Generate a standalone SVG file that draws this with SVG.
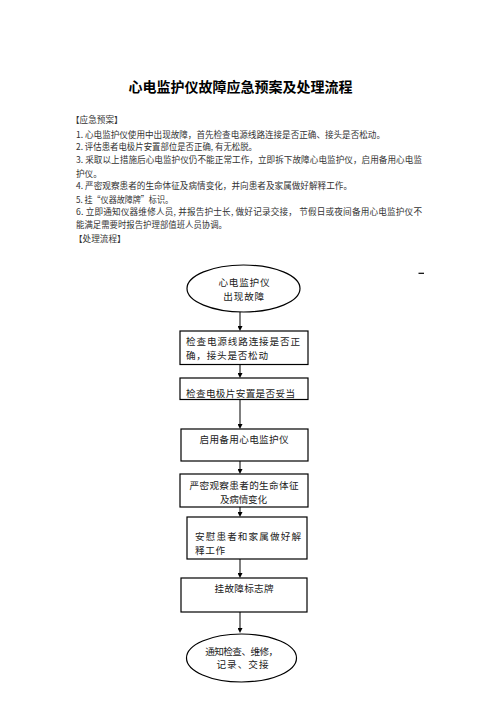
<svg xmlns="http://www.w3.org/2000/svg" width="496" height="702" viewBox="0 0 496 702">
<style>
.title{font-family:"Noto Sans CJK SC","Noto Sans",sans-serif;font-size:14px;font-weight:bold;fill:#000}
.body{font-family:"Noto Sans CJK SC","Noto Sans",sans-serif;font-size:8.6px;fill:#333}
.nt{font-family:"Noto Sans CJK SC","Noto Sans",sans-serif;font-size:9.6px;fill:#222}
.box{fill:#fff;stroke:#000;stroke-width:1.2}
.conn{stroke:#7f7f7f;stroke-width:2;fill:none}
</style>
<defs>
<marker id="ah" viewBox="0 0 5 5" refX="0" refY="2.5" markerWidth="5" markerHeight="5" markerUnits="userSpaceOnUse" orient="auto">
<path d="M0,0 L5,2.5 L0,5 z" fill="#000"/>
</marker>
</defs>
<rect width="496" height="702" fill="#fff"/>
<text class="title" x="240.5" y="92" text-anchor="middle">心电监护仪故障应急预案及处理流程</text>
<g id="plan-text">
<text class="body" x="71" y="122.5">【应急预案】</text>
<text class="body" x="76" y="137.5" textLength="309" lengthAdjust="spacing">1. 心电监护仪使用中出现故障，首先检查电源线路连接是否正确、接头是否松动。</text>
<text class="body" x="76" y="149.9" textLength="181" lengthAdjust="spacingAndGlyphs">2. 评估患者电极片安置部位是否正确, 有无松脱。</text>
<text class="body" x="76" y="162.5" textLength="346" lengthAdjust="spacing">3. 采取以上措施后心电监护仪仍不能正常工作，立即拆下故障心电监护仪，启用备用心电监</text>
<text class="body" x="76" y="177">护仪。</text>
<text class="body" x="76" y="189.2" textLength="276" lengthAdjust="spacing">4. 严密观察患者的生命体征及病情变化，并向患者及家属做好解释工作。</text>
<text class="body" x="76" y="202.5" textLength="97" lengthAdjust="spacingAndGlyphs">5. 挂“仪器故障牌”标识。</text>
<text class="body" x="76" y="214.9" textLength="346" lengthAdjust="spacing">6. 立即通知仪器维修人员, 并报告护士长, 做好记录交接，  节假日或夜间备用心电监护仪不</text>
<text class="body" x="76" y="228.2" textLength="151" lengthAdjust="spacingAndGlyphs">能满足需要时报告护理部值班人员协调。</text>
<text class="body" x="74" y="241.5">【处理流程】</text>
</g>
<line x1="418.5" y1="273.3" x2="424" y2="273.3" stroke="#000" stroke-width="1.2"/>
<g id="connectors">
<line class="conn" x1="240" y1="312" x2="240" y2="326" marker-end="url(#ah)"/>
<line class="conn" x1="240" y1="364.5" x2="240" y2="373" marker-end="url(#ah)"/>
<line class="conn" x1="240" y1="399.5" x2="240" y2="424" marker-end="url(#ah)"/>
<line class="conn" x1="240" y1="461" x2="240" y2="469" marker-end="url(#ah)"/>
<line class="conn" x1="240" y1="507" x2="240" y2="512" marker-end="url(#ah)"/>
<line class="conn" x1="240" y1="559" x2="240" y2="573" marker-end="url(#ah)"/>
<line class="conn" x1="240" y1="612" x2="240" y2="628" marker-end="url(#ah)"/>
</g>
<g id="start">
<ellipse class="box" cx="243.5" cy="288.5" rx="56.5" ry="23.5"/>
<text class="nt" x="244" y="286" text-anchor="middle" textLength="51" lengthAdjust="spacing">心电监护仪</text>
<text class="nt" x="243.7" y="299.5" text-anchor="middle" textLength="41" lengthAdjust="spacing">出现故障</text>
</g>
<g id="check-power">
<rect class="box" x="180" y="331" width="128" height="33.5"/>
<text class="nt" x="186" y="344.5" textLength="114" lengthAdjust="spacing">检查电源线路连接是否正</text>
<text class="nt" x="186" y="358.8" textLength="82" lengthAdjust="spacing">确，接头是否松动</text>
</g>
<g id="check-electrode">
<rect class="box" x="180" y="378" width="128" height="21.5"/>
<text class="nt" x="186" y="396.5" textLength="109" lengthAdjust="spacing">检查电极片安置是否妥当</text>
</g>
<g id="backup-monitor">
<rect class="box" x="181" y="429" width="127" height="32"/>
<text class="nt" x="244" y="443" text-anchor="middle" textLength="89" lengthAdjust="spacing">启用备用心电监护仪</text>
</g>
<g id="observe">
<rect class="box" x="180" y="474" width="128" height="33"/>
<text class="nt" x="244" y="489" text-anchor="middle" textLength="109" lengthAdjust="spacing">严密观察患者的生命体征</text>
<text class="nt" x="243.5" y="502.6" text-anchor="middle" textLength="47" lengthAdjust="spacing">及病情变化</text>
</g>
<g id="comfort">
<rect class="box" x="187" y="517" width="120" height="42"/>
<text class="nt" x="195" y="540" textLength="106" lengthAdjust="spacing">安慰患者和家属做好解</text>
<text class="nt" x="195" y="553.6" textLength="30" lengthAdjust="spacing">释工作</text>
</g>
<g id="sign">
<rect class="box" x="181" y="578" width="126" height="34"/>
<text class="nt" x="244" y="592.1" text-anchor="middle" textLength="59" lengthAdjust="spacing">挂故障标志牌</text>
</g>
<g id="end">
<ellipse class="box" cx="241.5" cy="658" rx="55" ry="24"/>
<text class="nt" x="241.7" y="654.5" text-anchor="middle" textLength="73" lengthAdjust="spacing">通知检查、维修，</text>
<text class="nt" x="242.5" y="668.3" text-anchor="middle" textLength="52" lengthAdjust="spacing">记录、交接</text>
</g>
</svg>
